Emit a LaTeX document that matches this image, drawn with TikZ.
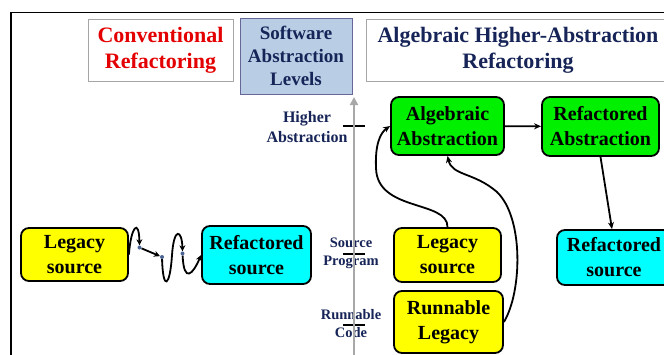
\documentclass[tikz,border=0pt]{standalone}
\usepackage{fontspec}
\setmainfont{LiberationSerif}[Extension=.ttf,UprightFont=*-Regular,BoldFont=*-Bold,ItalicFont=*-Italic,BoldItalicFont=*-BoldItalic]
\usetikzlibrary{arrows.meta}
\definecolor{boxgreen}{RGB}{0,240,0}
\definecolor{boxyellow}{RGB}{255,255,0}
\definecolor{boxcyan}{RGB}{0,255,255}
\definecolor{levelblue}{RGB}{185,205,229}
\definecolor{navytext}{RGB}{22,36,88}
\definecolor{titlered}{RGB}{228,0,0}
\definecolor{axisgray}{RGB}{168,168,168}
\definecolor{dotblue}{RGB}{74,100,150}
\begin{document}
\begin{tikzpicture}[x=1pt,y=-1pt,
  flowbox/.style={draw=black,line width=1.8pt,rounded corners=8pt,inner sep=0pt,align=center,
    font=\fontsize{20}{25}\selectfont\bfseries},
  headbox/.style={draw=gray!70,line width=0.8pt,inner sep=0pt,align=center},
  sidelabel/.style={align=center,text=navytext,inner sep=0pt},
  flowarrow/.style={line width=1.8pt,-{Stealth[length=7pt,width=6pt]}},
  wavearrow/.style={line width=1.8pt,-{Stealth[length=6pt,width=6pt]}},
  wavedot/.style={circle,fill=dotblue,inner sep=0pt,minimum size=4pt}]
\useasboundingbox (0,0) rectangle (664,354);
\fill[white] (0,0) rectangle (664,354);
% frame
\draw[line width=1.8pt] (11,380) -- (11,12.5) -- (700,12.5);
% header boxes
\node[headbox,minimum width=145pt,minimum height=62pt,text=titlered,
  font=\fontsize{22}{26}\selectfont\bfseries] (conv) at (160.5,50) {Conventional\\Refactoring};
\node[headbox,fill=levelblue,draw=gray!80!blue,minimum width=112pt,minimum height=76pt,text=navytext,
  font=\fontsize{19}{23}\selectfont\bfseries] (levels) at (296,56) {Software\\Abstraction\\Levels};
\node[headbox,minimum width=304pt,minimum height=62pt,text=navytext,
  font=\fontsize{22}{26}\selectfont\bfseries] (alg) at (518,50) {Algebraic Higher-Abstraction\\Refactoring};
% level labels
\node[sidelabel,font=\fontsize{16}{20}\selectfont\bfseries] (higher) at (307,127) {Higher\\Abstraction};
\node[sidelabel,font=\fontsize{14.5}{18}\selectfont\bfseries] (srcprog) at (351,253.5) {Source\\Program};
\node[sidelabel,font=\fontsize{14.5}{18}\selectfont\bfseries] (runcode) at (351,324) {Runnable\\Code};
\coordinate (tickA1) at (343,126);
\coordinate (tickA2) at (365,126);
\coordinate (tickB1) at (343,254);
\coordinate (tickB2) at (365,254);
\coordinate (tickC1) at (343,325);
\coordinate (tickC2) at (365,325);
\draw[line width=1.6pt] (tickA1) -- (tickA2);
\draw[line width=1.6pt] (tickB1) -- (tickB2);
\draw[line width=1.6pt] (tickC1) -- (tickC2);
% gray axis
\coordinate (axisbot) at (354,360);
\coordinate (axistop) at (354,97);
\draw[axisgray,line width=2.6pt,-{Triangle[length=8pt,width=8pt]}] (axisbot) -- (axistop);
% flow boxes
\node[flowbox,fill=boxyellow,minimum width=107pt,minimum height=53pt] (legL) at (74.5,254.5) {Legacy\\source};
\node[flowbox,fill=boxcyan,minimum width=109pt,minimum height=58pt] (refL) at (256.5,255) {Refactored\\source};
\node[flowbox,fill=boxgreen,minimum width=113pt,minimum height=58pt] (algA) at (447.5,126) {Algebraic\\Abstraction};
\node[flowbox,fill=boxgreen,minimum width=117pt,minimum height=59pt] (refA) at (600.5,126.5) {Refactored\\Abstraction};
\node[flowbox,fill=boxyellow,minimum width=107pt,minimum height=54pt] (legR) at (447.5,255) {Legacy\\source};
\node[flowbox,fill=boxyellow,minimum width=109pt,minimum height=62pt] (runL) at (448.5,322) {Runnable\\Legacy};
\node[flowbox,fill=boxcyan,minimum width=114pt,minimum height=55pt] (refR) at (614,257.5) {Refactored\\source};
% connectors right side
\draw[flowarrow] (algA) -- (refA);
\draw[flowarrow] (refA.south) -- (refR.north -| 612,0);
\draw[flowarrow] (legR.north) .. controls (448,200) and (377,212) .. (376,168)
  .. controls (375,145) and (380,133) .. (algA.west);
\draw[flowarrow] (runL.east) .. controls (522,292) and (524,218) .. (497,192)
  .. controls (474,172) and (452,176) .. (algA.south);
% wavy conventional refactoring arrow
\node[wavedot] (d1) at (139.5,247.5) {};
\node[wavedot] (d2) at (162,257) {};
\node[wavedot] (d3) at (182.5,253.5) {};
\draw[wavearrow] (legL.east) .. controls (131,226) and (139,218) .. (d1.north);
\draw[wavearrow] (d1) -- (d2);
\draw[wavearrow] (d2) .. controls (163,292) and (170,287) .. (172,255)
  .. controls (174,226) and (182,230) .. (d3.north);
\draw[wavearrow] (d3) .. controls (184,284) and (193,274) .. (refL.west);
\end{tikzpicture}
\end{document}
